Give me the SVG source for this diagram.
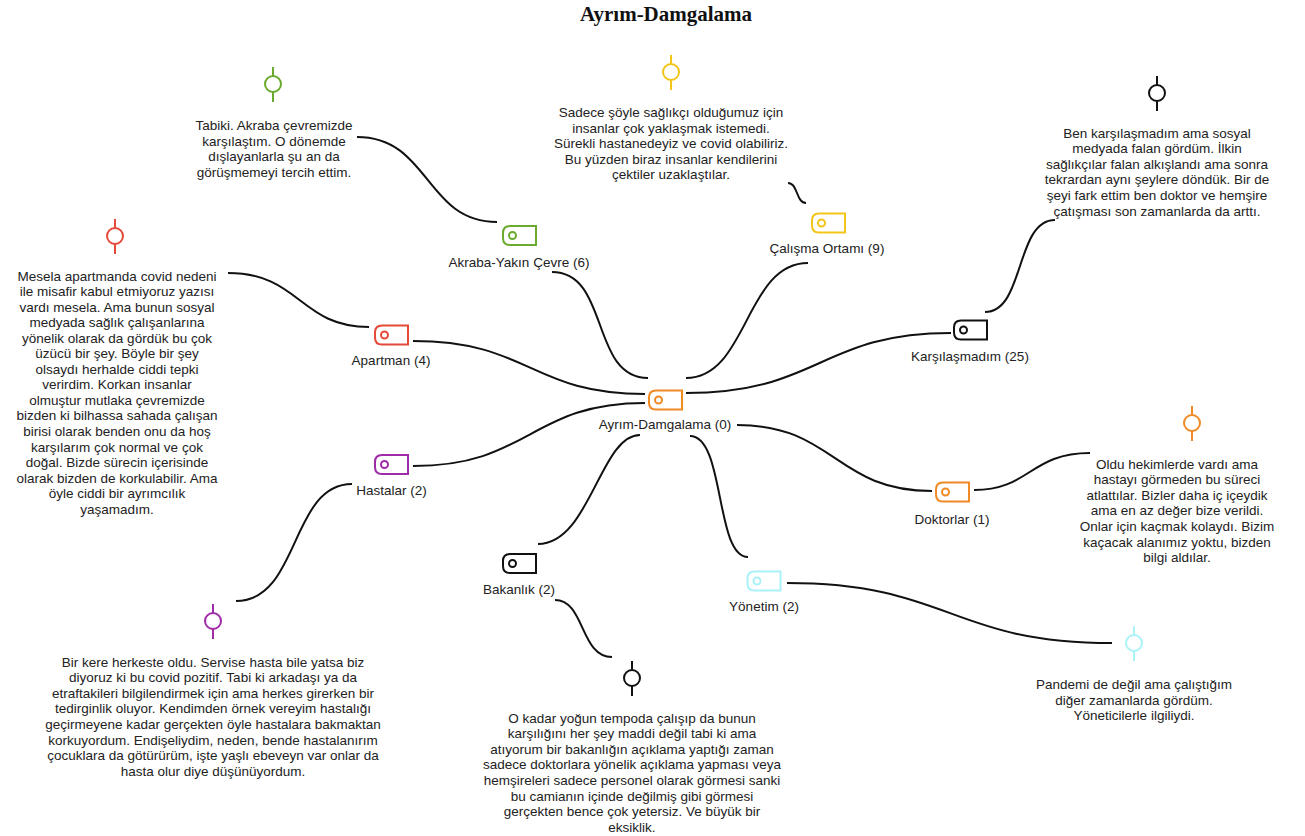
<svg xmlns="http://www.w3.org/2000/svg" xmlns:xlink="http://www.w3.org/1999/xlink" width="1305" height="836" viewBox="0 0 1305 836">
<style>
.t{font-family:"Liberation Sans",Arial,sans-serif;font-size:13.5px;fill:#222;text-anchor:middle}
.title{font-family:"Liberation Serif","Times New Roman",serif;font-size:21px;font-weight:bold;fill:#111;text-anchor:middle}
.c{fill:none;stroke:#111;stroke-width:2}
</style>
<defs>
<g id="tag" fill="none" stroke-width="2">
<path d="M-9.5,-9.5 H16.5 V9.5 H-9.5 Q-16.5,9.5 -16.5,2.5 V-2.5 Q-16.5,-9.5 -9.5,-9.5 Z"/>
<circle cx="-7" cy="0" r="3.5"/>
</g>
<g id="memo" fill="none" stroke-width="2">
<circle cx="0" cy="0" r="8"/>
<path d="M0,-17 V-8 M0,8 V18"/>
</g>
</defs>
<rect width="1305" height="836" fill="#fff"/>
<text class="title" x="666" y="21">Ayrım-Damgalama</text>

<g id="connectors">
<path class="c" d="M552,272 C610,272 590,378 648,378"/>
<path class="c" d="M413,341 C530,341 530,394 645,394"/>
<path class="c" d="M413,466 C530,466 530,403 645,403"/>
<path class="c" d="M686,378 C748,378 745,263 808,263"/>
<path class="c" d="M686,393 C820,393 820,333 951,333"/>
<path class="c" d="M737,425 C835,425 835,491 932,491"/>
<path class="c" d="M690,436 C725,436 715,557 748,557"/>
<path class="c" d="M640,435 C600,435 590,544 538,544"/>
<path class="c" d="M357,137 C430,137 425,222 497,222"/>
<path class="c" d="M788,183 C798,183 796,203 806,203"/>
<path class="c" d="M985,312 C1025,312 1015,220 1055,220"/>
<path class="c" d="M228,273 C300,273 300,327 369,327"/>
<path class="c" d="M352,484 C290,484 300,601 236,601"/>
<path class="c" d="M974,490 C1030,490 1030,453 1090,453"/>
<path class="c" d="M555,600 C585,600 580,657 612,657"/>
<path class="c" d="M787,583 C950,583 950,643 1112,643"/>
</g>

<g id="node-center">
<use href="#tag" x="665.5" y="400" stroke="#f08a24"/>
<text class="t" x="665" y="429">Ayrım-Damgalama (0)</text>
</g>
<g id="node-akraba">
<use href="#tag" x="519.5" y="235.5" stroke="#6aaa2e"/>
<text class="t" x="519" y="266.5">Akraba-Yakın Çevre (6)</text>
</g>
<g id="node-apartman">
<use href="#tag" x="391.5" y="335" stroke="#e5493a"/>
<text class="t" x="391" y="364.5">Apartman (4)</text>
</g>
<g id="node-calisma">
<use href="#tag" x="828.5" y="223" stroke="#f2c518"/>
<text class="t" x="827" y="252.5">Çalışma Ortamı (9)</text>
</g>
<g id="node-karsilasmadim">
<use href="#tag" x="970.5" y="330" stroke="#111"/>
<text class="t" x="970" y="360.5">Karşılaşmadım (25)</text>
</g>
<g id="node-hastalar">
<use href="#tag" x="391.5" y="464.5" stroke="#a02ba8"/>
<text class="t" x="391.5" y="494.5">Hastalar (2)</text>
</g>
<g id="node-doktorlar">
<use href="#tag" x="952.5" y="492" stroke="#f08a24"/>
<text class="t" x="952" y="523.5">Doktorlar (1)</text>
</g>
<g id="node-bakanlik">
<use href="#tag" x="519.5" y="563.5" stroke="#111"/>
<text class="t" x="519" y="593.5">Bakanlık (2)</text>
</g>
<g id="node-yonetim">
<use href="#tag" x="764" y="581" stroke="#aaf2f8"/>
<text class="t" x="764" y="610.5">Yönetim (2)</text>
</g>

<g id="memo-akraba">
<use href="#memo" x="273" y="84" stroke="#6aaa2e"/>
<text class="t" y="130"><tspan x="274">Tabiki. Akraba çevremizde</tspan><tspan x="274" dy="15.6">karşılaştım. O dönemde</tspan><tspan x="274" dy="15.6">dışlayanlarla şu an da</tspan><tspan x="274" dy="15.6">görüşmemeyi tercih ettim.</tspan></text>
</g>
<g id="memo-calisma">
<use href="#memo" x="671" y="72" stroke="#f2c518"/>
<text class="t" y="117"><tspan x="671">Sadece şöyle sağlıkçı olduğumuz için</tspan><tspan x="671" dy="15.6">insanlar çok yaklaşmak istemedi.</tspan><tspan x="671" dy="15.6">Sürekli hastanedeyiz ve covid olabiliriz.</tspan><tspan x="671" dy="15.6">Bu yüzden biraz insanlar kendilerini</tspan><tspan x="671" dy="15.6">çektiler uzaklaştılar.</tspan></text>
</g>
<g id="memo-karsilasmadim">
<use href="#memo" x="1157" y="93" stroke="#111"/>
<text class="t" y="137.5"><tspan x="1157">Ben karşılaşmadım ama sosyal</tspan><tspan x="1157" dy="15.6">medyada falan gördüm. İlkin</tspan><tspan x="1157" dy="15.6">sağlıkçılar falan alkışlandı ama sonra</tspan><tspan x="1157" dy="15.6">tekrardan aynı şeylere döndük. Bir de</tspan><tspan x="1157" dy="15.6">şeyi fark ettim ben doktor ve hemşire</tspan><tspan x="1157" dy="15.6">çatışması son zamanlarda da arttı.</tspan></text>
</g>
<g id="memo-apartman">
<use href="#memo" x="115" y="236" stroke="#e5493a"/>
<text class="t" y="280.5"><tspan x="117">Mesela apartmanda covid nedeni</tspan><tspan x="117" dy="15.55">ile misafir kabul etmiyoruz yazısı</tspan><tspan x="117" dy="15.55">vardı mesela. Ama bunun sosyal</tspan><tspan x="117" dy="15.55">medyada sağlık çalışanlarına</tspan><tspan x="117" dy="15.55">yönelik olarak da gördük bu çok</tspan><tspan x="117" dy="15.55">üzücü bir şey. Böyle bir şey</tspan><tspan x="117" dy="15.55">olsaydı herhalde ciddi tepki</tspan><tspan x="117" dy="15.55">verirdim. Korkan insanlar</tspan><tspan x="117" dy="15.55">olmuştur mutlaka çevremizde</tspan><tspan x="117" dy="15.55">bizden ki bilhassa sahada çalışan</tspan><tspan x="117" dy="15.55">birisi olarak benden onu da hoş</tspan><tspan x="117" dy="15.55">karşılarım çok normal ve çok</tspan><tspan x="117" dy="15.55">doğal. Bizde sürecin içerisinde</tspan><tspan x="117" dy="15.55">olarak bizden de korkulabilir. Ama</tspan><tspan x="117" dy="15.55">öyle ciddi bir ayrımcılık</tspan><tspan x="117" dy="15.55">yaşamadım.</tspan></text>
</g>
<g id="memo-doktorlar">
<use href="#memo" x="1192" y="423" stroke="#f08a24"/>
<text class="t" y="468.5"><tspan x="1177">Oldu hekimlerde vardı ama</tspan><tspan x="1177" dy="15.6">hastayı görmeden bu süreci</tspan><tspan x="1177" dy="15.6">atlattılar. Bizler daha iç içeydik</tspan><tspan x="1177" dy="15.6">ama en az değer bize verildi.</tspan><tspan x="1177" dy="15.6">Onlar için kaçmak kolaydı. Bizim</tspan><tspan x="1177" dy="15.6">kaçacak alanımız yoktu, bizden</tspan><tspan x="1177" dy="15.6">bilgi aldılar.</tspan></text>
</g>
<g id="memo-hastalar">
<use href="#memo" x="213" y="621" stroke="#a02ba8"/>
<text class="t" y="666.5"><tspan x="213">Bir kere herkeste oldu. Servise hasta bile yatsa biz</tspan><tspan x="213" dy="15.6">diyoruz ki bu covid pozitif. Tabi ki arkadaşı ya da</tspan><tspan x="213" dy="15.6">etraftakileri bilgilendirmek için ama herkes girerken bir</tspan><tspan x="213" dy="15.6">tedirginlik oluyor. Kendimden örnek vereyim hastalığı</tspan><tspan x="213" dy="15.6">geçirmeyene kadar gerçekten öyle hastalara bakmaktan</tspan><tspan x="213" dy="15.6">korkuyordum. Endişeliydim, neden, bende hastalanırım</tspan><tspan x="213" dy="15.6">çocuklara da götürürüm, işte yaşlı ebeveyn var onlar da</tspan><tspan x="213" dy="15.6">hasta olur diye düşünüyordum.</tspan></text>
</g>
<g id="memo-bakanlik">
<use href="#memo" x="632" y="678" stroke="#111"/>
<text class="t" y="722.5"><tspan x="632">O kadar yoğun tempoda çalışıp da bunun</tspan><tspan x="632" dy="15.6">karşılığını her şey maddi değil tabi ki ama</tspan><tspan x="632" dy="15.6">atıyorum bir bakanlığın açıklama yaptığı zaman</tspan><tspan x="632" dy="15.6">sadece doktorlara yönelik açıklama yapması veya</tspan><tspan x="632" dy="15.6">hemşireleri sadece personel olarak görmesi sanki</tspan><tspan x="632" dy="15.6">bu camianın içinde değilmiş gibi görmesi</tspan><tspan x="632" dy="15.6">gerçekten bence çok yetersiz. Ve büyük bir</tspan><tspan x="632" dy="15.6">eksiklik.</tspan></text>
</g>
<g id="memo-yonetim">
<use href="#memo" x="1134" y="643" stroke="#aaf2f8"/>
<text class="t" y="689"><tspan x="1134">Pandemi de değil ama çalıştığım</tspan><tspan x="1134" dy="15.6">diğer zamanlarda gördüm.</tspan><tspan x="1134" dy="15.6">Yöneticilerle ilgiliydi.</tspan></text>
</g>
</svg>
